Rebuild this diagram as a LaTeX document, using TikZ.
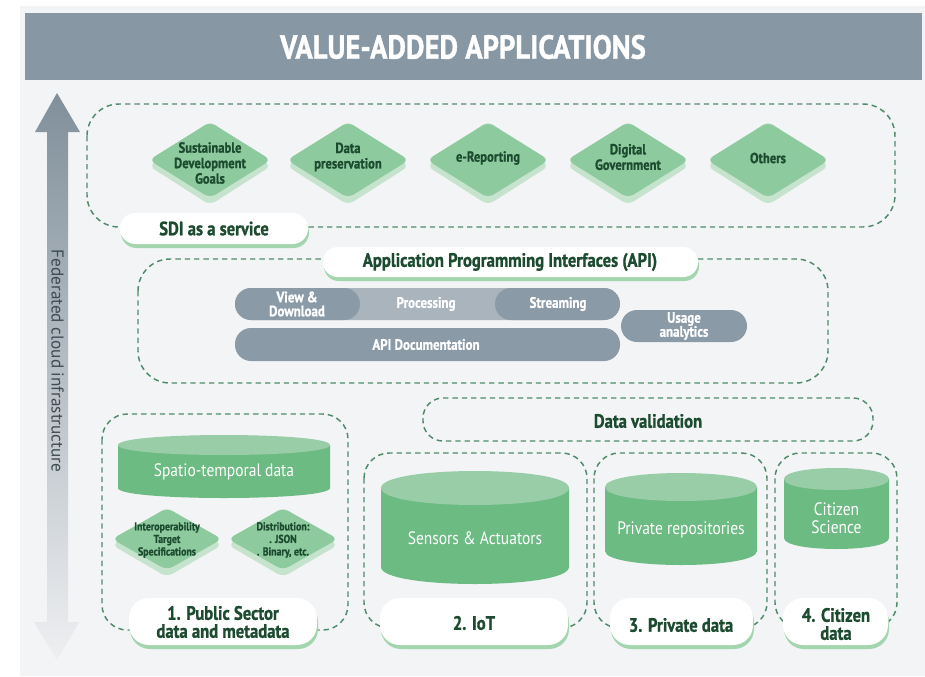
\documentclass[tikz,border=0pt]{standalone}
\usepackage{fontspec}
\setmainfont{PT Sans}
\newfontfamily\cond[FakeStretch=0.86, BoldFeatures={FakeBold=1}]{PT Sans}
\usetikzlibrary{shadings}
\definecolor{bgc}{HTML}{F3F4F6}
\definecolor{titlec}{HTML}{8797A3}
\definecolor{dashc}{HTML}{4E8B68}
\definecolor{dkg}{HTML}{1D4B30}
\definecolor{diac}{HTML}{8DCA9E}
\definecolor{diash}{HTML}{C5E3CD}
\definecolor{cylb}{HTML}{6CBB83}
\definecolor{cylt}{HTML}{98CDA7}
\definecolor{pillsh}{HTML}{A3D5AE}
\definecolor{bardk}{HTML}{8A9AA7}
\definecolor{barlt}{HTML}{A9B4BC}
\definecolor{arrtxt}{HTML}{3E4A54}
\definecolor{arrbot}{HTML}{EEEFF1}
\tikzset{
  dbox/.style={draw=dashc, line width=1.1pt, dash pattern=on 4pt off 3pt},
  ttl/.style={text=white, font=\cond\bfseries\fontsize{25}{28}\selectfont},
  diatxt/.style={text=dkg, align=center, font=\cond\bfseries\fontsize{11}{11.6}\selectfont},
  sdiatxt/.style={text=dkg, align=center, font=\cond\bfseries\fontsize{8.6}{9.4}\selectfont},
  pilltxt/.style={text=dkg, align=center, font=\cond\bfseries\fontsize{14.5}{13.5}\selectfont},
  bartxt/.style={text=white, align=center, font=\cond\bfseries\fontsize{11.3}{10.5}\selectfont},
  cyltxt/.style={text=white, align=center, font=\cond\fontsize{13.5}{13.5}\selectfont},
}
% diamond: cx cy halfwidth halfheight
\newcommand\mydia[4]{%
  \fill[diash, rounded corners=5pt] (#1-#3,#2+6) -- (#1,#2-#4-1) -- (#1+#3,#2+6) -- (#1,#2+#4+7) -- cycle;
  \fill[diac, rounded corners=5pt] (#1-#3,#2) -- (#1,#2-#4) -- (#1+#3,#2) -- (#1,#2+#4) -- cycle;}
% pill: x1 y1 x2 y2 radius(pt)
\newcommand\mypill[5]{%
  \fill[pillsh, rounded corners=#5] (#1+1,#2+4) rectangle (#3+1,#4+4);
  \fill[white, rounded corners=#5] (#1,#2) rectangle (#3,#4);}
% cylinder: x1 x2 ctop cbot ry
\newcommand\mycyl[5]{%
  \fill[cylb] (#1,#3) -- (#1,#4) .. controls (#1,#4+1.333*#5) and (#2,#4+1.333*#5) .. (#2,#4) -- (#2,#3) -- cycle;
  \fill[cylt] (#1,#3) .. controls (#1,#3-1.333*#5) and (#2,#3-1.333*#5) .. (#2,#3) .. controls (#2,#3+1.333*#5) and (#1,#3+1.333*#5) .. (#1,#3) -- cycle;}
\begin{document}
\begin{tikzpicture}[x=0.75pt,y=-0.75pt]
\useasboundingbox (0,0) rectangle (925,676);
\fill[white] (0,0) rectangle (925,676);
\fill[bgc] (20,6) rectangle (925,676);
% title
\fill[titlec] (25,13) rectangle (922,80);
\node[ttl] (title) at (463,47) {VALUE-ADDED APPLICATIONS};
% federated arrow
\shade[top color=titlec!95!black, bottom color=arrbot]
  (57,93) -- (80,132) -- (68,132) -- (68,622) -- (79,622) -- (57,660) -- (34,622) -- (47,622) -- (47,132) -- (35,132) -- cycle;
\node[rotate=-90, text=arrtxt, font=\fontsize{12.9}{12.9}\selectfont] (fed) at (57.5,361) {Federated cloud infrastructure};
% SDI box
\draw[dbox, rounded corners=24pt] (87,104) rectangle (895,227);
\mydia{210}{160}{61}{38}
\mydia{348}{160}{61}{38}
\mydia{488}{160}{61}{38}
\mydia{628}{160}{61}{38}
\mydia{768}{160}{61}{38}
\node[diatxt] (sdg) at (210,163) {Sustainable\\Development\\Goals};
\node[diatxt] (dp) at (348,157) {Data\\preservation};
\node[diatxt] (er) at (488,158) {e-Reporting};
\node[diatxt] (dg) at (628,157) {Digital\\Government};
\node[diatxt] (oth) at (768,158) {Others};
\mypill{120}{213}{308}{244}{11.5pt}
\node[pilltxt] (sdi) at (214,228.5) {SDI as a service};
% API box
\draw[dbox, rounded corners=24pt] (138,259) rectangle (828,383);
\mypill{323}{247}{698}{277}{11pt}
\node[pilltxt] (api) at (510,262) {Application Programming Interfaces (API)};
\fill[barlt, rounded corners=12pt] (235,288) rectangle (620,320);
\fill[bardk, rounded corners=12pt] (235,288) rectangle (360,320);
\fill[bardk, rounded corners=12pt] (495,288) rectangle (620,320);
\fill[bardk, rounded corners=12pt] (235,328) rectangle (620,361);
\fill[bardk, rounded corners=12pt] (621,310) rectangle (747,342);
\node[bartxt] (vd) at (297,304) {View \&\\Download};
\node[bartxt] (proc) at (426,304) {Processing};
\node[bartxt] (str) at (558,304) {Streaming};
\node[bartxt] (doc) at (426,344.5) {API Documentation};
\node[bartxt] (use) at (684,326) {Usage\\analytics};
% data validation
\draw[dbox, rounded corners=15pt] (423,398) rectangle (873,441);
\node[pilltxt] (dv) at (648,421) {Data validation};
% bottom boxes
\draw[dbox, rounded corners=19pt] (102,414) rectangle (348,630);
\draw[dbox, rounded corners=19pt] (364,453) rectangle (587,628);
\draw[dbox, rounded corners=19pt] (594,453) rectangle (767,628);
\draw[dbox, rounded corners=19pt] (775,453) rectangle (897,628);
% cylinders
\mycyl{118}{330}{445}{488}{10}
\node[cyltxt] (st) at (224,472) {Spatio-temporal data};
\mycyl{381}{569}{488}{567}{17}
\node[cyltxt] (sa) at (475,538) {Sensors \& Actuators};
\mycyl{605}{757}{487}{551}{14}
\node[cyltxt] (pr) at (681,530) {Private repositories};
\mycyl{784}{889}{479}{538}{11}
\node[cyltxt] (cs) at (836.5,518) {Citizen\\Science};
% small diamonds
\mydia{167}{539}{55}{31}
\mydia{283}{539}{55}{31}
\node[sdiatxt] (its) at (167,540) {Interoperability\\Target\\Specifications};
\node[sdiatxt] (dist) at (283,540) {Distribution:\\. JSON\\. Binary, etc.};
% pills
\mypill{129}{598}{317}{645}{15pt}
\node[pilltxt] (p1) at (223,622) {1. Public Sector\\data and metadata};
\mypill{380}{598}{568}{645}{15pt}
\node[pilltxt] (p2) at (474,623) {2. IoT};
\mypill{610}{598}{753}{645}{15pt}
\node[pilltxt] (p3) at (681,625) {3. Private data};
\mypill{783}{598}{888}{645}{15pt}
\node[pilltxt] (p4) at (836,624) {4. Citizen\\data};
\end{tikzpicture}
\end{document}
